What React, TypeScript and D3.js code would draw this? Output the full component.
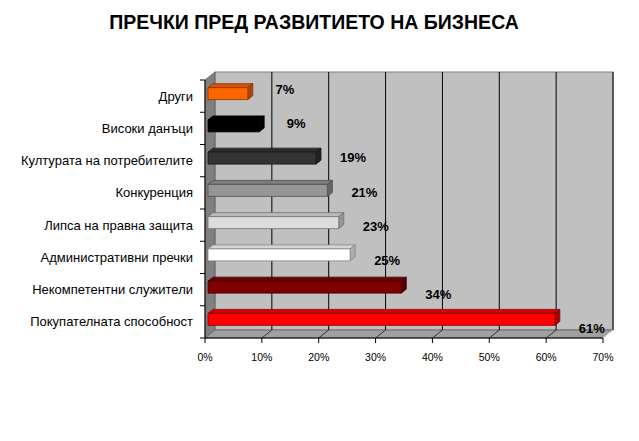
import React from "react";
import * as d3 from "d3";

// top to bottom, as in the picture
const categories = [
  "Други",
  "Високи данъци",
  "Културата на потребителите",
  "Конкуренция",
  "Липса на правна защита",
  "Административни пречки",
  "Некомпетентни служители",
  "Покупателната способност",
];
const values = [7, 9, 19, 21, 23, 25, 34, 61];
const barColors = ["#FF6600", "#000000", "#333333", "#969696", "#DDDDDD", "#FFFFFF", "#800000", "#FF0000"];
const xTicks = [0, 10, 20, 30, 40, 50, 60, 70];

const width = 639;
const height = 441;
const plot = { left: 205, right: 603, top: 80, bottom: 338 };
const depth = { dx: 10, dy: -8 };
const bar = { dx: 3, dy: -3, h: 12, ddx: 5, ddy: -4 };

const App = () => {
  const x = d3.scaleLinear().domain([0, 70]).range([plot.left, plot.right]);
  const y = d3.scaleBand().domain(categories).range([plot.top, plot.bottom]);
  const labelShift = d3.scaleLinear().domain([0, categories.length - 1]).range([-6.4, 6.4]);

  const L = plot.left, R = plot.right, T = plot.top, B = plot.bottom;
  const { dx, dy } = depth;

  const shade = (c: string, k: number) => {
    if (c === "#000000") return "#000";
    return d3.color(c)!.darker(k).formatHex();
  };

  return (
    <div style={{ position: "fixed", left: 0, top: 0 }}>
      <svg width={width} height={height} style={{ display: "block", background: "#fff" }}
        fontFamily="'Liberation Sans', Arial, sans-serif">
        <text x={314} y={29} textAnchor="middle" fontSize={19.5} fontWeight="bold">
          ПРЕЧКИ ПРЕД РАЗВИТИЕТО НА БИЗНЕСА
        </text>

        {/* back wall */}
        <rect x={L + dx} y={T + dy} width={R - L} height={B - T} fill="#C0C0C0" stroke="#808080" strokeWidth={1} />
        {/* left wall */}
        <polygon points={`${L},${T} ${L + dx},${T + dy} ${L + dx},${B + dy} ${L},${B}`} fill="#808080" stroke="#606060" strokeWidth={0.8} />
        {/* floor */}
        <polygon points={`${L},${B} ${L + dx},${B + dy} ${R + dx},${B + dy} ${R},${B}`} fill="#A0A0A0" stroke="#606060" strokeWidth={0.8} />

        {/* gridlines */}
        {xTicks.slice(1, -1).map((t) => (
          <g key={t}>
            <line x1={x(t) + dx} x2={x(t) + dx} y1={T + dy} y2={B + dy} stroke="#000" strokeWidth={1} />
            <line x1={x(t)} x2={x(t) + dx} y1={B} y2={B + dy} stroke="#333" strokeWidth={1} />
          </g>
        ))}
        <line x1={R + dx} x2={R + dx} y1={T + dy} y2={B + dy} stroke="#000" strokeWidth={1} />
        <line x1={R} x2={R + dx} y1={B} y2={B + dy} stroke="#eee" strokeWidth={1} />

        {/* bars */}
        {categories.map((c, i) => {
          const x0 = x(0) + bar.dx;
          const x1 = x(values[i]) + bar.dx;
          const yc = y(c)! + y.bandwidth() / 2 + bar.dy + 0.5;
          const y0 = yc - bar.h / 2;
          const y1 = yc + bar.h / 2;
          const col = barColors[i];
          const st = col === "#000000" ? "#000" : shade(col, 1.8);
          return (
            <g key={c} strokeWidth={0.8} stroke={st} strokeLinejoin="round">
              <polygon
                points={`${x0},${y0} ${x0 + bar.ddx},${y0 + bar.ddy} ${x1 + bar.ddx},${y0 + bar.ddy} ${x1},${y0}`}
                fill={shade(col, 0.5)}
              />
              <polygon
                points={`${x1},${y0} ${x1 + bar.ddx},${y0 + bar.ddy} ${x1 + bar.ddx},${y1 + bar.ddy} ${x1},${y1}`}
                fill={shade(col, 1.1)}
              />
              <rect x={x0} y={y0} width={x1 - x0} height={y1 - y0} fill={col} />
            </g>
          );
        })}

        {/* value labels */}
        {categories.map((c, i) => (
          <text
            key={c}
            x={x(values[i]) + 40}
            y={y(c)! + y.bandwidth() / 2 + labelShift(i)}
            dy="0.35em"
            textAnchor="middle"
            fontSize={13}
            fontWeight="bold"
          >
            {values[i]}%
          </text>
        ))}

        {/* left axis */}
        <line x1={L} x2={L} y1={T} y2={B} stroke="#000" strokeWidth={1} />
        {[...categories.map((c) => y(c)!), B].map((v, i) => (
          <line key={i} x1={L - 5} x2={L} y1={v} y2={v} stroke="#000" strokeWidth={1} />
        ))}
        {categories.map((c) => (
          <text key={c} x={193} y={y(c)! + y.bandwidth() / 2} dy="0.35em" textAnchor="end" fontSize={13}>
            {c}
          </text>
        ))}

        {/* bottom axis */}
        <line x1={L} x2={R} y1={B} y2={B} stroke="#000" strokeWidth={1} />
        {xTicks.map((t) => (
          <g key={t}>
            <line x1={x(t)} x2={x(t)} y1={B} y2={B + 5} stroke="#000" strokeWidth={1} />
            <text x={x(t)} y={B + 19} dy="0.35em" textAnchor="middle" fontSize={10.5}>
              {t}%
            </text>
          </g>
        ))}
      </svg>
    </div>
  );
};

export default App;
